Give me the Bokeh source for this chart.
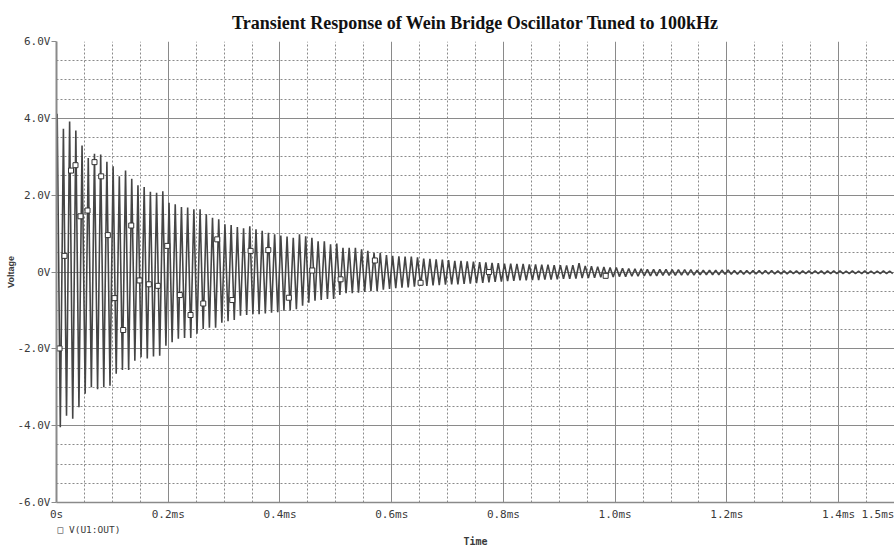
import numpy as np
from bokeh.plotting import figure
from bokeh.models import FixedTicker, Range1d, Title
from bokeh.embed import file_html
from bokeh.resources import INLINE

# Positive and negative peak voltage of each oscillation cycle of V(U1:OUT)
v_top = [
    4.12, 3.73, 3.92, 3.68, 3.29, 2.97, 3.08, 3.06, 2.87, 2.75, 2.49, 2.64, 2.43, 2.26, 2.21, 2.09, 2.06, 2.10,
    1.80, 1.76, 1.69, 1.68, 1.63, 1.63, 1.50, 1.41, 1.37, 1.24, 1.22, 1.17, 1.14, 1.19, 1.11, 1.07, 1.02, 0.98, 0.95, 0.92,
    0.89, 0.98, 0.93, 0.89, 0.80, 0.80, 0.72, 0.74, 0.63, 0.63, 0.63, 0.59, 0.55, 0.50, 0.50, 0.44, 0.42, 0.41, 0.40,
    0.40, 0.38, 0.35, 0.34, 0.33, 0.32, 0.31, 0.29, 0.29, 0.28, 0.27, 0.26, 0.25, 0.24, 0.23, 0.22, 0.22, 0.21, 0.21,
    0.20, 0.20, 0.19, 0.19, 0.18, 0.18, 0.17, 0.18, 0.23, 0.16, 0.15, 0.14, 0.13, 0.12, 0.12,
    0.10, 0.09, 0.08, 0.08, 0.07, 0.07, 0.07, 0.07, 0.06, 0.06, 0.06, 0.06, 0.05, 0.05, 0.05, 0.05, 0.05, 0.05, 0.04, 0.04,
    0.04, 0.04, 0.04, 0.04, 0.04, 0.03, 0.03, 0.03, 0.03, 0.03, 0.03, 0.03, 0.03, 0.03, 0.03, 0.03, 0.02, 0.03, 0.02, 0.03,
    0.02, 0.02, 0.03, 0.02,
]
v_bot = [
    -4.04, -3.74, -3.82, -3.52, -3.17, -3.00, -3.05, -3.00, -2.96, -2.65, -2.55, -2.55, -2.31, -2.22, -2.25, -2.20,
    -2.18, -1.92, -1.83, -1.74, -1.72, -1.72, -1.61, -1.48, -1.45, -1.45, -1.32, -1.28, -1.25, -1.14, -1.12, -1.10,
    -1.10, -1.08, -1.06, -1.05, -1.01, -1.00, -0.97,
    -0.88, -0.80, -0.75, -0.73, -0.70, -0.70, -0.60, -0.55, -0.55, -0.54, -0.52, -0.50, -0.49, -0.46, -0.44, -0.42,
    -0.41, -0.40,
    -0.38, -0.36, -0.36, -0.35, -0.34, -0.33, -0.32, -0.32, -0.31, -0.30, -0.29, -0.28, -0.27, -0.26, -0.25, -0.24,
    -0.23, -0.22, -0.22, -0.21, -0.21, -0.20, -0.20, -0.19, -0.18, -0.18, -0.17, -0.16, -0.16, -0.15, -0.14, -0.13,
    -0.13, -0.12,
    -0.12, -0.11, -0.11, -0.10, -0.10, -0.10, -0.09, -0.09, -0.09, -0.08, -0.08, -0.08, -0.07, -0.07, -0.07, -0.07,
    -0.06, -0.06, -0.06, -0.06,
    -0.05, -0.05, -0.05, -0.05, -0.05, -0.05, -0.05, -0.04, -0.05, -0.04, -0.04, -0.04, -0.05, -0.04, -0.04, -0.04,
    -0.04, -0.04, -0.04, -0.04, -0.04, -0.04, -0.04, -0.04,
]
period_us = 11.12      # time between successive positive peaks
first_peak_us = 1.25   # time of the first positive peak

# Trace symbols placed along the waveform (time in us, voltage in V)
marker_t = [5.4, 14.3, 26.0, 34.0, 43.0, 55.5, 68.0, 80.0, 91.9, 103.9, 119.4, 133.8, 148.6, 165.3, 181.4,
            198.2, 220.8, 239.9, 262.7, 287.7, 314.6, 347.4, 379.1, 415.9, 457.8, 508.5, 569.9, 651.7, 774.0, 983.0]
marker_v = [-1.99, 0.42, 2.64, 2.78, 1.45, 1.60, 2.86, 2.49, 0.96, -0.68, -1.51, 1.21, -0.22, -0.32, -0.36,
            0.68, -0.60, -1.12, -0.82, 0.85, -0.73, 0.55, 0.57, -0.67, 0.04, -0.19, 0.30, -0.28, 0.00, -0.10]

trace_name = "V(U1:OUT)"

# Axis ticks (time in us)
x_major = [0, 200, 400, 600, 800, 1000, 1200, 1400, 1500]
x_labels = ["0s", "0.2ms", "0.4ms", "0.6ms", "0.8ms", "1.0ms", "1.2ms", "1.4ms", "1.5ms"]
x_minor = [m for m in range(50, 1500, 50) if m % 200 != 0]
y_major = [-6, -4, -2, 0, 2, 4, 6]
y_labels = ["-6.0V", "-4.0V", "-2.0V", "0V", "2.0V", "4.0V", "6.0V"]
y_minor = [m / 2 for m in range(-11, 12) if m % 4 != 0]

# Build the waveform by alternating positive and negative peaks
n = min(len(v_top), len(v_bot))
t_top = first_peak_us + period_us * np.arange(n)
t_bot = t_top + period_us / 2
t_wave = np.empty(2 * n)
v_wave = np.empty(2 * n)
t_wave[0::2] = t_top
t_wave[1::2] = t_bot
v_wave[0::2] = v_top[:n]
v_wave[1::2] = v_bot[:n]
keep = t_wave <= 1500
t_wave = t_wave[keep]
v_wave = v_wave[keep]

GRID = "#8a8a8a"
TEXT = "#3a3a3a"
TRACE = "#454545"
MONO = "DejaVu Sans Mono"

p = figure(width=894, height=550, output_backend="svg", toolbar_location=None,
           x_range=Range1d(0, 1500), y_range=Range1d(-6, 6),
           min_border_left=56, min_border_right=0, min_border_top=41, min_border_bottom=48,
           title="Transient Response of Wein Bridge Oscillator Tuned to 100kHz")
p.outline_line_color = None
p.background_fill_color = "white"

p.title.align = "center"
p.title.text_font = "Liberation Serif"
p.title.text_font_size = "18px"
p.title.text_font_style = "bold"
p.title.text_color = "#111111"
p.title.standoff = 18

# x axis
xa = p.xaxis[0]
xa.ticker = FixedTicker(ticks=x_major, minor_ticks=x_minor)
xa.major_label_overrides = dict(zip(x_major, x_labels))
xa.major_label_text_font = MONO
xa.major_label_text_font_size = "11px"
xa.major_label_text_color = TEXT
xa.major_label_standoff = 1
xa.major_tick_out = 0
xa.major_tick_in = 0
xa.minor_tick_line_color = None
xa.axis_line_color = GRID
xa.axis_line_width = 1.5

# y axis
ya = p.yaxis[0]
ya.ticker = FixedTicker(ticks=y_major, minor_ticks=y_minor)
ya.major_label_overrides = dict(zip(y_major, y_labels))
ya.major_label_text_font = MONO
ya.major_label_text_font_size = "11px"
ya.major_label_text_color = TEXT
ya.major_label_standoff = 1
ya.major_tick_out = 5
ya.major_tick_in = 0
ya.major_tick_line_color = GRID
ya.minor_tick_line_color = None
ya.axis_line_color = GRID
ya.axis_line_width = 2

for g in (p.xgrid[0], p.ygrid[0]):
    g.grid_line_color = GRID
    g.grid_line_width = 1
    g.minor_grid_line_color = GRID
    g.minor_grid_line_dash = "2 2"
    g.minor_grid_line_width = 1

p.line(t_wave, v_wave, line_color=TRACE, line_width=1.6)
p.scatter(marker_t, marker_v, marker="square", size=5, fill_color="white",
          line_color="#333333", line_width=1)

# Trace key under the time axis, then the axis title
p.add_layout(Title(text="\u25a1 " + trace_name, align="left", offset=1, text_font=MONO,
                   text_font_size="9.5px", text_font_style="normal", text_color=TEXT, standoff=-3), "below")
p.add_layout(Title(text="Time", align="center", text_font=MONO, text_font_size="10px",
                   text_font_style="bold", text_color=TEXT, standoff=0), "below")
p.add_layout(Title(text="Voltage", align="center", text_font="Liberation Sans", text_font_size="9px",
                   text_font_style="bold", text_color=TEXT, standoff=-2), "left")

open("out.html", "w").write(file_html(p, INLINE))
